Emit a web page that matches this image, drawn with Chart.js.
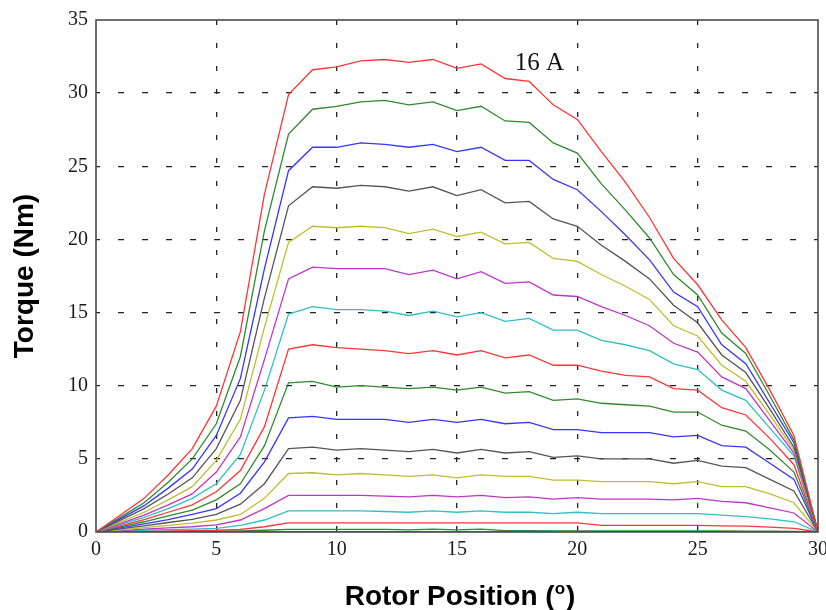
<!DOCTYPE html>
<html>
<head>
<meta charset="utf-8">
<title>Torque vs rotor position</title>
<script src="https://cdn.jsdelivr.net/npm/chart.js@4.4.1/dist/chart.umd.min.js"></script>
<style>
  html, body { margin: 0; padding: 0; background: #fff; }
  #wrap { width: 826px; height: 610px; position: relative; }
</style>
</head>
<body>
<div id="wrap"><canvas id="canvas"></canvas></div>
<script>
'use strict';

// rotor position in degrees
const rotorPos = [0,1,2,3,4,5,6,7,8,9,10,11,12,13,14,15,16,17,18,19,20,21,22,23,24,25,26,27,28,29,30];

const xTicks = [0,5,10,15,20,25,30];
const yTicks = [0,5,10,15,20,25,30,35];

// phase current for each curve (A)
const currents = [16,15,14,13,12,11,10,9,8,7,6,5,4,3,2,1,0];

// torque (Nm), one array per current
const t16 = [0,1.15,2.3,3.9,5.7,8.6,13.7,23.1,29.9,31.6,31.8,32.2,32.3,32.1,32.3,31.7,32.0,31.0,30.8,29.2,28.2,26.0,23.9,21.5,18.7,16.9,14.5,12.6,9.7,6.6,0];
const t15 = [0,1.0,2.0,3.4,5.0,7.4,12.0,20.6,27.2,28.9,29.1,29.4,29.5,29.2,29.4,28.8,29.1,28.1,28.0,26.6,25.9,23.8,22.0,20.1,17.6,16.2,13.6,12.2,9.3,6.3,0];
const t14 = [0,0.9,1.8,3.0,4.3,6.6,10.5,18.0,24.7,26.3,26.3,26.6,26.5,26.3,26.5,26.0,26.3,25.4,25.4,24.1,23.4,21.9,20.3,18.6,16.4,15.4,12.8,11.5,8.8,6.1,0];
const t13 = [0,0.8,1.6,2.6,3.7,5.7,9.0,16.0,22.3,23.6,23.5,23.7,23.6,23.3,23.6,23.0,23.4,22.5,22.6,21.4,20.9,19.6,18.5,17.3,15.5,14.3,12.1,10.9,8.4,5.8,0];
const t12 = [0,0.68,1.35,2.2,3.1,4.9,7.7,14.0,19.8,20.9,20.8,20.9,20.8,20.4,20.7,20.2,20.5,19.7,19.8,18.7,18.5,17.6,16.8,15.9,14.1,13.4,11.4,10.3,8.0,5.6,0];
const t11 = [0,0.58,1.15,1.85,2.6,4.1,6.5,11.8,17.3,18.1,18.0,18.0,18.0,17.6,17.9,17.3,17.8,17.0,17.1,16.2,16.1,15.4,14.8,14.1,12.9,12.3,10.6,9.8,7.6,5.4,0];
const t10 = [0,0.5,1.0,1.6,2.3,3.3,5.3,9.7,14.9,15.4,15.2,15.2,15.1,14.8,15.1,14.7,15.0,14.4,14.6,13.8,13.8,13.1,12.8,12.4,11.5,11.1,9.7,9.0,7.1,5.2,0];
const t9  = [0,0.42,0.85,1.35,1.85,2.75,4.2,7.2,12.5,12.8,12.6,12.5,12.4,12.2,12.4,12.1,12.4,11.9,12.1,11.4,11.4,11.0,10.7,10.6,9.8,9.7,8.5,8.0,6.4,4.6,0];
const t8  = [0,0.35,0.7,1.1,1.5,2.2,3.3,5.9,10.2,10.3,9.9,10.0,9.9,9.8,9.9,9.7,9.9,9.5,9.6,9.0,9.1,8.8,8.7,8.6,8.2,8.2,7.3,6.9,5.6,4.1,0];
const t7  = [0,0.28,0.55,0.85,1.2,1.6,2.65,4.8,7.8,7.9,7.7,7.7,7.7,7.5,7.7,7.5,7.7,7.4,7.5,7.0,7.0,6.8,6.8,6.8,6.5,6.6,5.9,5.8,4.7,3.6,0];
const t6  = [0,0.21,0.42,0.65,0.87,1.2,1.9,3.3,5.7,5.8,5.6,5.7,5.6,5.5,5.65,5.4,5.65,5.4,5.5,5.1,5.2,5.0,5.0,5.0,4.7,4.9,4.5,4.4,3.6,2.8,0];
const t5  = [0,0.15,0.3,0.45,0.6,0.82,1.2,2.3,4.0,4.05,3.9,4.0,3.9,3.8,3.9,3.7,3.9,3.8,3.8,3.55,3.55,3.45,3.45,3.45,3.3,3.45,3.1,3.1,2.6,2.0,0];
const t4  = [0,0.1,0.2,0.28,0.36,0.48,0.82,1.6,2.5,2.5,2.5,2.5,2.45,2.4,2.5,2.4,2.5,2.35,2.4,2.25,2.35,2.25,2.25,2.25,2.2,2.3,2.1,2.0,1.65,1.3,0];
const t3  = [0,0.06,0.12,0.16,0.2,0.25,0.45,0.82,1.45,1.45,1.45,1.45,1.4,1.35,1.45,1.35,1.45,1.35,1.35,1.25,1.35,1.25,1.25,1.25,1.25,1.25,1.15,1.05,0.9,0.7,0];
const t2  = [0,0.03,0.06,0.08,0.1,0.12,0.18,0.36,0.62,0.62,0.62,0.62,0.62,0.62,0.62,0.62,0.62,0.62,0.62,0.62,0.62,0.45,0.45,0.45,0.45,0.45,0.42,0.4,0.33,0.25,0];
const t1  = [0,0.01,0.02,0.03,0.04,0.05,0.08,0.12,0.18,0.18,0.18,0.18,0.18,0.15,0.2,0.15,0.2,0.1,0.1,0.08,0.08,0.07,0.07,0.07,0.07,0.07,0.07,0.06,0.05,0.04,0];
const t0  = [0,0,0,0,0,0,0,0,0,0,0,0,0,0,0,0,0,0,0,0,0,0,0,0,0,0,0,0,0,0,0];

const torque = [t16,t15,t14,t13,t12,t11,t10,t9,t8,t7,t6,t5,t4,t3,t2,t1,t0];

// old matlab colour order b g r c m y k, indexed by current (a bit washed out like the scan)
const colorOrder = ['#3535ff','#2f8a2f','#ff3535','#30c0c0','#c035c8','#bebe30','#555555'];

const annotationText = '16 A';
const xTitle = 'Rotor Position (';
const xTitleSup = 'o';
const yTitle = 'Torque (Nm)';

function buildDatasets(){
  const sets = [];
  for(let i=0;i<currents.length;i++){
    const vals = torque[i];
    const pts = [];
    for(let j=0;j<rotorPos.length;j++){
      pts.push({x: rotorPos[j], y: vals[j]});
    }
    sets.push({
      label: currents[i] + ' A',
      data: pts,
      borderColor: colorOrder[currents[i] % colorOrder.length],
      borderWidth: 1.3,
      pointRadius: 0,
      tension: 0,
      fill: false
    });
  }
  return sets;
}

// frame, titles and the 16 A note
const decor = {
  id: 'decor',
  afterDatasetsDraw(chart){
    const ctx = chart.ctx;
    const a = chart.chartArea;
    ctx.save();
    ctx.strokeStyle = '#4a4a4a';
    ctx.lineWidth = 1.6;
    ctx.strokeRect(a.left, a.top, a.right - a.left, a.bottom - a.top);

    ctx.fillStyle = '#111';
    ctx.font = '25px "Liberation Serif", "Times New Roman", serif';
    ctx.textAlign = 'left';
    ctx.textBaseline = 'alphabetic';
    const xs = chart.scales.x, ys = chart.scales.y;
    ctx.fillText(annotationText, xs.getPixelForValue(17.4), ys.getPixelForValue(31.6));

    // x title with raised o
    ctx.fillStyle = '#000';
    const big = 'bold 28px "Liberation Sans", Arial, sans-serif';
    const small = 'bold 17px "Liberation Sans", Arial, sans-serif';
    ctx.font = big;
    const w1 = ctx.measureText(xTitle).width;
    const w3 = ctx.measureText(')').width;
    ctx.font = small;
    const w2 = ctx.measureText(xTitleSup).width + 1;
    let x0 = (a.left + a.right) / 2 - (w1 + w2 + w3) / 2 + 3;
    const base = 605;
    ctx.font = big;
    ctx.fillText(xTitle, x0, base);
    ctx.font = small;
    ctx.fillText(xTitleSup, x0 + w1, base - 11);
    ctx.font = big;
    ctx.fillText(')', x0 + w1 + w2, base);

    // y title
    ctx.translate(33, (a.top + a.bottom) / 2);
    ctx.rotate(-Math.PI / 2);
    ctx.textAlign = 'center';
    ctx.fillText(yTitle, 0, 0);
    ctx.restore();
  }
};

function renderChart(){
  const ctx = document.getElementById('canvas').getContext('2d');
  const tickFont = {family: '"Liberation Serif", "Times New Roman", serif', size: 20};
  const dash = [5, 18];
  return new Chart(ctx, {
    type: 'line',
    data: { datasets: buildDatasets() },
    options: {
      responsive: true,
      maintainAspectRatio: false,
      animation: false,
      layout: { padding: {left: 0, right: 8, top: 20, bottom: 0} },
      plugins: { legend: {display: false}, tooltip: {enabled: false} },
      scales: {
        x: {
          type: 'linear',
          min: 0, max: 30,
          afterBuildTicks(scale){ scale.ticks = xTicks.map(v => ({value: v})); },
          afterFit(scale){ scale.height = 78; scale.paddingLeft = 0; scale.paddingRight = 0; },
          ticks: { font: tickFont, color: '#1a1a1a', padding: 6, maxRotation: 0, autoSkip: false },
          grid: {
            color: ctx => (ctx.tick && (ctx.tick.value === 0 || ctx.tick.value === 30)) ? 'rgba(0,0,0,0)' : '#222',
            lineWidth: 1.3, drawTicks: false, borderDash: dash, borderDashOffset: 0
          },
          border: { display: false, dash: dash, dashOffset: 0 }
        },
        y: {
          min: 0, max: 35,
          afterBuildTicks(scale){ scale.ticks = yTicks.map(v => ({value: v})); },
          afterFit(scale){ scale.width = 96; scale.paddingTop = 0; scale.paddingBottom = 0; },
          ticks: { font: tickFont, color: '#1a1a1a', padding: 8 },
          grid: {
            color: ctx => (ctx.tick && (ctx.tick.value === 0 || ctx.tick.value === 35)) ? 'rgba(0,0,0,0)' : '#222',
            lineWidth: 1.3, drawTicks: false, borderDash: [6, 18], borderDashOffset: 2
          },
          border: { display: false, dash: [6, 18], dashOffset: 2 }
        }
      }
    },
    plugins: [decor]
  });
}

renderChart();
</script>
</body>
</html>
